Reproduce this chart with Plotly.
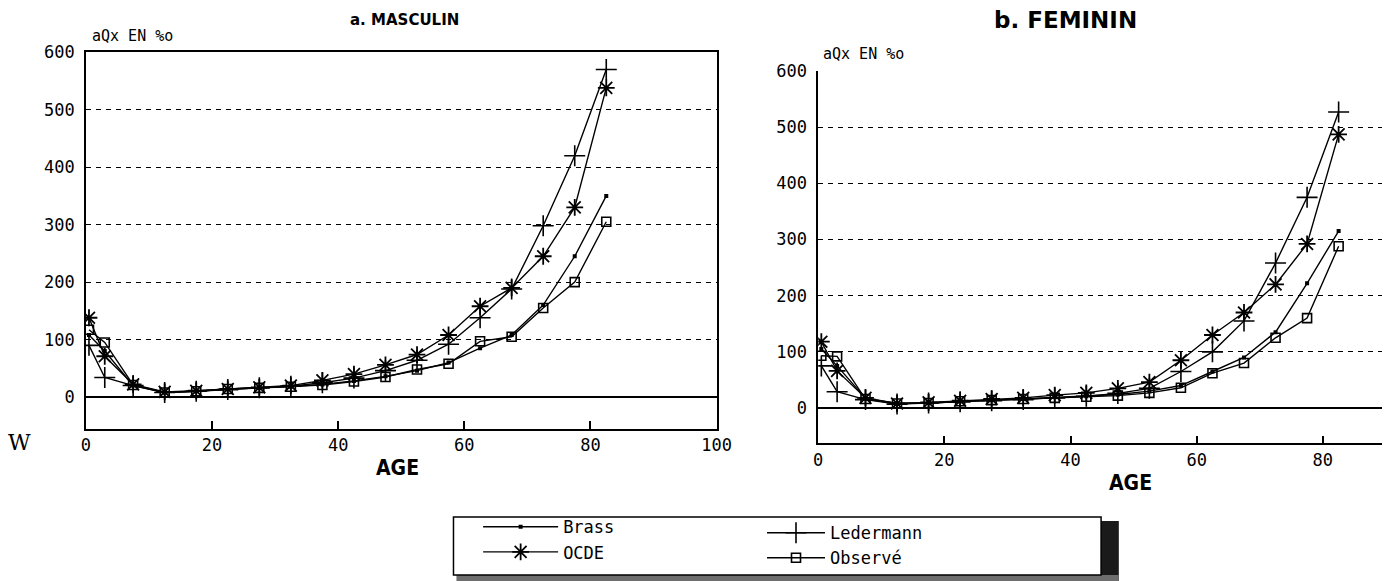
import plotly.graph_objects as go

W, H = 1397, 581

ages = [0.5, 3, 7.5, 12.5, 17.5, 22.5, 27.5, 32.5, 37.5, 42.5, 47.5, 52.5, 57.5, 62.5, 67.5, 72.5, 77.5, 82.5]

# a. MASCULIN
brass_m = [108, 80, 20, 8, 10, 14, 16, 18, 22, 28, 36, 46, 60, 85, 108, 160, 245, 350]
ocde_m = [138, 71, 22, 9, 11, 14, 17, 20, 29, 40, 56, 74, 108, 158, 190, 245, 330, 538]
led_m = [90, 34, 20, 8, 10, 13, 16, 19, 25, 33, 46, 64, 92, 138, 188, 298, 420, 570]
obs_m = [117, 95, 21, 8, 10, 14, 16, 18, 21, 27, 35, 48, 58, 97, 105, 155, 200, 305]

# b. FEMININ
brass_f = [105, 75, 17, 8, 9, 12, 14, 16, 19, 21, 24, 30, 40, 65, 90, 135, 222, 315]
ocde_f = [118, 66, 18, 8, 10, 13, 16, 18, 23, 27, 35, 46, 85, 130, 170, 220, 292, 487]
led_f = [75, 29, 15, 7, 9, 11, 13, 15, 18, 21, 26, 35, 65, 100, 155, 258, 375, 527]
obs_f = [93, 92, 16, 8, 9, 12, 14, 16, 18, 20, 22, 27, 36, 62, 80, 125, 160, 288]

series_names = ["Brass", "OCDE", "Ledermann", "Observé"]
x_ticks = [0, 20, 40, 60, 80, 100]
y_ticks = [0, 100, 200, 300, 400, 500, 600]

MONO = "DejaVu Sans Mono"
styles = {
    "Brass": dict(symbol="square", size=4, line=dict(width=0)),
    "OCDE": dict(symbol="asterisk-open", size=14, line=dict(width=1.8, color="black")),
    "Ledermann": dict(symbol="cross-thin-open", size=15, line=dict(width=1.6, color="black")),
    "Observé": dict(symbol="square-open", size=9, line=dict(width=1.6, color="black")),
}
legend_of = {"Brass": "legend", "OCDE": "legend", "Ledermann": "legend2", "Observé": "legend2"}

fig = go.Figure()
panels = [("x", "y", [brass_m, ocde_m, led_m, obs_m], True),
          ("x2", "y2", [brass_f, ocde_f, led_f, obs_f], False)]
for xa, ya, vals, show in panels:
    for name, v in zip(series_names, vals):
        st = styles[name]
        fig.add_trace(go.Scatter(
            x=ages, y=v, name=name, mode="lines+markers",
            xaxis=xa, yaxis=ya, showlegend=show, legend=legend_of[name],
            line=dict(color="black", width=1.4),
            marker=dict(color="black", symbol=st["symbol"], size=st["size"], line=st["line"]),
        ))

def px_x(p):
    return p / W

def px_y(p):
    return 1 - p / H

axis_font = dict(family=MONO, size=17, color="black")
common_x = dict(tickvals=x_ticks, ticks="inside", ticklen=8, tickwidth=1.6, tickcolor="black",
                showline=True, linecolor="black", linewidth=1.6, mirror=True,
                showgrid=False, zeroline=False, tickfont=axis_font,
                title=dict(text=""))
common_y = dict(tickvals=y_ticks, ticks="", showline=True, linecolor="black", linewidth=1.6,
                showgrid=True, gridcolor="black", gridwidth=1.4, griddash="5px,5px",
                zeroline=True, zerolinecolor="black", zerolinewidth=1.6,
                tickfont=axis_font, ticklabelstandoff=6)

leg_font = dict(family=MONO, size=17, color="black")
fig.update_layout(
    width=W, height=H,
    margin=dict(l=0, r=0, t=0, b=0),
    paper_bgcolor="white", plot_bgcolor="white",
    xaxis=dict(common_x, domain=[px_x(82), px_x(722)], range=[0, 100], anchor="y"),
    yaxis=dict(common_y, domain=[px_y(426), px_y(43)], range=[-55, 600], anchor="x", mirror=True),
    xaxis2=dict(common_x, domain=[px_x(825), 1.0], range=[0, (W - 825) / 6.4], anchor="y2", mirror=False),
    yaxis2=dict(common_y, domain=[px_y(441), px_y(62)], range=[-63, 600], anchor="x2"),
    legend=dict(x=px_x(480), y=px_y(508), xanchor="left", yanchor="top",
                bgcolor="rgba(0,0,0,0)", borderwidth=0, itemwidth=75,
                font=leg_font, tracegroupgap=0),
    legend2=dict(x=px_x(768), y=px_y(514), xanchor="left", yanchor="top",
                 bgcolor="rgba(0,0,0,0)", borderwidth=0, itemwidth=58,
                 font=leg_font, tracegroupgap=0),
    showlegend=True,
)

shapes = [
    # legend shadow: right dark bar and bottom band
    dict(type="rect", xref="paper", yref="paper", x0=px_x(1110), x1=px_x(1130), y0=px_y(581), y1=px_y(520),
         fillcolor="#1a1a1a", line=dict(width=0), layer="above"),
    dict(type="rect", xref="paper", yref="paper", x0=px_x(458), x1=px_x(1130), y0=px_y(581), y1=px_y(575),
         fillcolor="#6e6e6e", line=dict(width=0), layer="above"),
    # legend box
    dict(type="rect", xref="paper", yref="paper", x0=px_x(455), x1=px_x(1112), y0=px_y(575), y1=px_y(516),
         fillcolor="white", line=dict(color="black", width=1.5), layer="above"),
]
fig.update_layout(shapes=shapes)

ann = []
lab_font = dict(family=MONO, size=15, color="black")
ann.append(dict(text="aQx EN %o", x=px_x(86), y=px_y(26), xref="paper", yref="paper",
                xanchor="left", yanchor="middle", showarrow=False, font=lab_font))
ann.append(dict(text="aQx EN %o", x=px_x(828), y=px_y(45), xref="paper", yref="paper",
                xanchor="left", yanchor="middle", showarrow=False, font=lab_font))
age_font = dict(family="DejaVu Sans Condensed, DejaVu Sans", size=21, color="black")
ann.append(dict(text="<b>AGE</b>", x=px_x(398), y=px_y(466), xref="paper", yref="paper",
                xanchor="center", yanchor="middle", showarrow=False, font=age_font))
ann.append(dict(text="<b>AGE</b>", x=px_x(1142), y=px_y(481), xref="paper", yref="paper",
                xanchor="center", yanchor="middle", showarrow=False, font=age_font))
title_font = dict(family="DejaVu Sans", size=23, color="black")
ann.append(dict(text="<b>b. FEMININ</b>", x=px_x(1076), y=px_y(10), xref="paper", yref="paper",
                xanchor="center", yanchor="middle", showarrow=False, font=title_font))
ann.append(dict(text="<b>a. MASCULIN</b>", x=px_x(405), y=1.0, xref="paper", yref="paper",
                xanchor="center", yanchor="top", showarrow=False, borderpad=0,
                font=dict(family="DejaVu Sans", size=15, color="black")))
ann.append(dict(text="W", x=px_x(15), y=px_y(440), xref="paper", yref="paper",
                xanchor="center", yanchor="middle", showarrow=False,
                font=dict(family="DejaVu Serif", size=22, color="black")))
fig.update_layout(annotations=ann)

fig.write_html("out.html")
